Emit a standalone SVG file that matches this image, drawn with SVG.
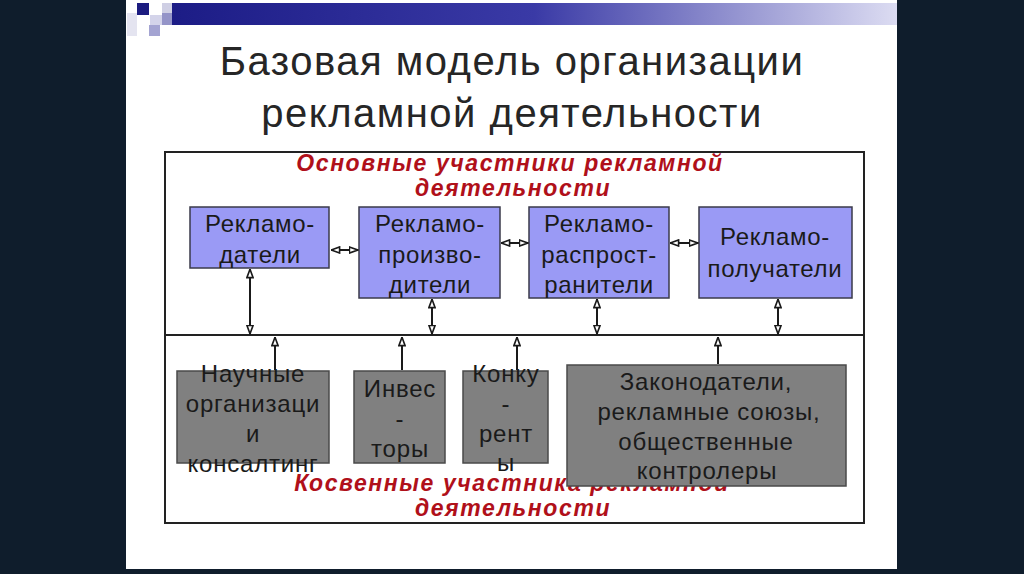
<svg xmlns="http://www.w3.org/2000/svg" width="1024" height="574" viewBox="0 0 1024 574">
<defs>
<linearGradient id="bar" x1="0" y1="0" x2="1" y2="0">
<stop offset="0" stop-color="#1c1c86"/>
<stop offset="0.5" stop-color="#3a3aa6"/>
<stop offset="1" stop-color="#dcdcf2"/>
</linearGradient>
<marker id="ah" viewBox="0 0 10 8" refX="9.5" refY="4" markerWidth="10" markerHeight="8" markerUnits="userSpaceOnUse" orient="auto-start-reverse">
<path d="M0.9,0.9 L9.3,4 L0.9,7.1 z" fill="#fff" stroke="#1a1a1a" stroke-width="1.6"/>
</marker>
</defs>
<style>
.t{font-family:"Liberation Sans",Arial,sans-serif;}
.title{font-size:40px;fill:#262626;letter-spacing:1.5px;text-anchor:middle;}
.red{font-size:23px;font-weight:bold;font-style:italic;fill:#b0101a;letter-spacing:1.6px;text-anchor:middle;}
.bt{font-size:24px;fill:#1a1a1a;letter-spacing:0.7px;text-anchor:middle;}
.gt{font-size:24px;fill:#1a1a1a;letter-spacing:0.8px;text-anchor:middle;}
.blue{fill:#9a9af5;stroke:#3a3a4a;stroke-width:1.5;}
.gray{fill:#808080;stroke:#4a4a4a;stroke-width:1.5;}
.ln{stroke:#222;stroke-width:2;fill:none;}
.c{stroke:#1a1a1a;stroke-width:2;fill:none;}
</style>
<rect width="1024" height="574" fill="#0f1d2c"/>
<rect x="126" y="0" width="771" height="569" fill="#ffffff"/>
<g id="header">
<rect x="172" y="3" width="725" height="22" fill="url(#bar)"/>
<rect x="137" y="3" width="12" height="12" fill="#1c1c80"/>
<rect x="127" y="13" width="10" height="23" fill="#e4e4f0"/>
<rect x="150" y="15" width="12" height="10" fill="#d4d4ea"/>
<rect x="162" y="3" width="10" height="10" fill="#cfcfe4"/>
<rect x="162" y="13" width="10" height="12" fill="#9494c8"/>
<rect x="149" y="25" width="11" height="11" fill="#a4a4d2"/>
</g>
<g id="title">
<text class="t title" x="512" y="75">Базовая модель организации</text>
<text class="t title" x="512" y="127">рекламной деятельности</text>
</g>
<g id="frame">
<rect x="165" y="152" width="699" height="371" class="ln"/>
<line x1="165" y1="335" x2="864" y2="335" class="ln"/>
</g>
<g id="label-main">
<text class="t red" x="510" y="171">Основные участники рекламной</text>
<text class="t red" x="513" y="196">деятельности</text>
</g>
<g id="label-indirect">
<text class="t red" x="512" y="491">Косвенные участника рекламной</text>
<text class="t red" x="513" y="516">деятельности</text>
</g>
<g id="n-reklamodateli">
<rect x="190" y="207" width="139" height="61" class="blue"/>
<text class="t bt" x="260" y="232">Рекламо-</text>
<text class="t bt" x="260" y="263">датели</text>
</g>
<g id="n-proizvoditeli">
<rect x="359" y="207" width="141" height="91" class="blue"/>
<text class="t bt" x="430" y="232">Рекламо-</text>
<text class="t bt" x="430" y="263">произво-</text>
<text class="t bt" x="430" y="293">дители</text>
</g>
<g id="n-rasprostraniteli">
<rect x="529" y="207" width="140" height="91" class="blue"/>
<text class="t bt" x="599" y="232">Рекламо-</text>
<text class="t bt" x="599" y="263">распрост-</text>
<text class="t bt" x="599" y="293">ранители</text>
</g>
<g id="n-poluchateli">
<rect x="699" y="207" width="153" height="91" class="blue"/>
<text class="t bt" x="775" y="245">Рекламо-</text>
<text class="t bt" x="775" y="277">получатели</text>
</g>
<g id="n-nauchnye">
<rect x="177" y="371" width="152" height="92" class="gray"/>
<text class="t gt" x="253" y="382">Научные</text>
<text class="t gt" x="253" y="412">организаци</text>
<text class="t gt" x="253" y="442">и</text>
<text class="t gt" x="253" y="472">консалтинг</text>
</g>
<g id="n-investory">
<rect x="354" y="371" width="91" height="92" class="gray"/>
<text class="t gt" x="400" y="397">Инвес</text>
<text class="t gt" x="400" y="427">-</text>
<text class="t gt" x="400" y="457">торы</text>
</g>
<g id="n-konkurenty">
<rect x="463" y="371" width="85" height="92" class="gray"/>
<text class="t gt" x="506" y="382">Конку</text>
<text class="t gt" x="506" y="412">-</text>
<text class="t gt" x="506" y="442">рент</text>
<text class="t gt" x="506" y="471">ы</text>
</g>
<g id="n-zakonodateli">
<rect x="567" y="365" width="279" height="121" class="gray"/>
<text class="t gt" x="706" y="390">Законодатели,</text>
<text class="t gt" x="709" y="420">рекламные союзы,</text>
<text class="t gt" x="706" y="450">общественные</text>
<text class="t gt" x="707" y="479">контролеры</text>
</g>
<g id="connectors">
<line x1="331" y1="250" x2="358" y2="250" class="c" marker-start="url(#ah)" marker-end="url(#ah)"/>
<line x1="501" y1="243" x2="528" y2="243" class="c" marker-start="url(#ah)" marker-end="url(#ah)"/>
<line x1="670" y1="243" x2="698" y2="243" class="c" marker-start="url(#ah)" marker-end="url(#ah)"/>
<line x1="250" y1="269" x2="250" y2="334" class="c" marker-start="url(#ah)" marker-end="url(#ah)"/>
<line x1="432" y1="299" x2="432" y2="334" class="c" marker-start="url(#ah)" marker-end="url(#ah)"/>
<line x1="597" y1="299" x2="597" y2="334" class="c" marker-start="url(#ah)" marker-end="url(#ah)"/>
<line x1="778" y1="299" x2="778" y2="334" class="c" marker-start="url(#ah)" marker-end="url(#ah)"/>
<line x1="275" y1="370" x2="275" y2="337" class="c" marker-end="url(#ah)"/>
<line x1="402" y1="370" x2="402" y2="337" class="c" marker-end="url(#ah)"/>
<line x1="517" y1="370" x2="517" y2="337" class="c" marker-end="url(#ah)"/>
<line x1="718" y1="364" x2="718" y2="337" class="c" marker-end="url(#ah)"/>
</g>
</svg>
